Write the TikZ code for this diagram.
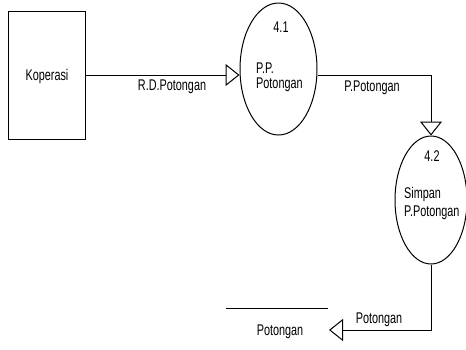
\documentclass[tikz,border=0pt]{standalone}
\usepackage{fontspec}
\setmainfont[FakeStretch=0.7]{Liberation Sans}
\usetikzlibrary{arrows.meta,shapes.geometric}
\tikzset{
  flow/.style={line width=1pt,-{Triangle[open,length=14pt,width=22pt,fill=white]}},
  proc/.style={draw,line width=1pt,ellipse,inner sep=0pt},
  ent/.style={draw,line width=1pt,rectangle,inner sep=0pt},
  txt/.style={inner sep=0pt,font=\fontsize{15.5}{17}\selectfont},
  ltxt/.style={txt,anchor=west}
}
\begin{document}
\begin{tikzpicture}[x=1pt,y=-1pt]
\useasboundingbox (0,0) rectangle (466,349);
\node[ent,minimum width=77pt,minimum height=128pt] (kop) at (46.5,75) {};
\node[txt] (kopt) at (47,76) {Koperasi};
\node[proc,minimum width=77pt,minimum height=132pt] (p41) at (278.5,69) {};
\node[txt] (n41) at (281,27) {4.1};
\node[ltxt] (t41a) at (256,68) {P.P.};
\node[ltxt] (t41b) at (256,85) {Potongan};
\node[proc,minimum width=72pt,minimum height=128pt] (p42) at (431,200) {};
\node[txt] (n42) at (432,156) {4.2};
\node[ltxt] (t42a) at (404,194) {Simpan};
\node[ltxt] (t42b) at (404,213) {P.Potongan};
\coordinate (sa) at (226,308);
\coordinate (sb) at (328,308);
\draw[line width=1pt] (sa) -- (sb);
\node[txt] (st) at (280,332) {Potongan};
\coordinate (stin) at (329,330);
\draw[flow] (kop.east) -- (kop.east -| p41.west);
\draw[flow] (kop.east -| p41.east) -| (p42.north);
\draw[flow] (p42.south) |- (stin);
\node[txt] (l1) at (172,87) {R.D.Potongan};
\node[txt] (l2) at (372,88) {P.Potongan};
\node[txt] (l3) at (379,320) {Potongan};
\end{tikzpicture}
\end{document}
